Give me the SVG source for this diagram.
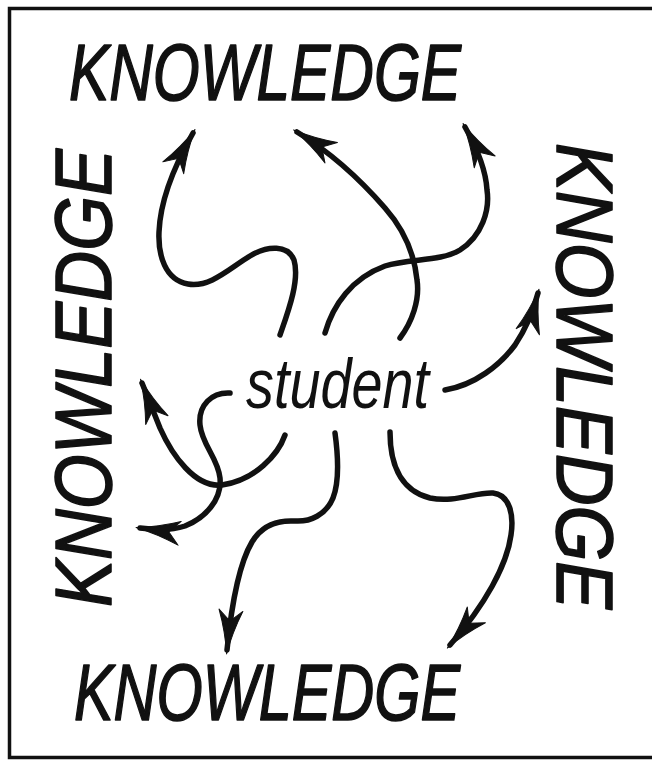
<svg xmlns="http://www.w3.org/2000/svg" width="652" height="762" viewBox="0 0 652 762">
  <defs>
    <style>
      .frame { fill: none; stroke: #111; stroke-width: 3.5; }
      .word { font-family: "Liberation Sans", Arial, sans-serif; font-style: italic; font-size: 80px; fill: #111; stroke: #111; stroke-width: 1.6; stroke-linejoin: round; }
      .center { font-family: "Liberation Sans", Arial, sans-serif; font-style: italic; font-size: 70px; fill: #111; }
      .arrow { fill: none; stroke: #111; stroke-width: 5.5; stroke-linecap: round; stroke-linejoin: round; marker-end: url(#head); }
    </style>
    <!-- dart-shaped arrowhead, tip at the path end -->
    <marker id="head" markerUnits="userSpaceOnUse" markerWidth="56" markerHeight="34" viewBox="-48 -17 56 34" refX="0" refY="0" orient="auto" overflow="visible">
      <path d="M4,0 Q-18,-3.5 -40,-12 L-29,0 L-40,12 Q-18,3.5 4,0 Z" fill="#111" stroke="#111" stroke-width="1" stroke-linejoin="round"/>
    </marker>
  </defs>

  <rect width="652" height="762" fill="#fff"/>

  <!-- outer frame, right side runs off the sheet -->
  <path class="frame" d="M700,8.5 H9.5 V757.5 H700"/>

  <!-- the four KNOWLEDGE labels -->
  <g id="knowledge-top">
    <text class="word" x="69" y="100" textLength="392" lengthAdjust="spacingAndGlyphs">KNOWLEDGE</text>
  </g>
  <g id="knowledge-bottom">
    <text class="word" x="74" y="720" textLength="386" lengthAdjust="spacingAndGlyphs">KNOWLEDGE</text>
  </g>
  <g id="knowledge-left">
    <text class="word" transform="translate(111,607) rotate(-90)" x="0" y="0" textLength="458" lengthAdjust="spacingAndGlyphs">KNOWLEDGE</text>
  </g>
  <g id="knowledge-right">
    <text class="word" transform="translate(557,143) rotate(90)" x="0" y="0" textLength="466" lengthAdjust="spacingAndGlyphs">KNOWLEDGE</text>
  </g>

  <!-- centre label -->
  <g id="student">
    <text class="center" x="246" y="408" textLength="183" lengthAdjust="spacingAndGlyphs">student</text>
  </g>

  <!-- wandering paths outward -->
  <g id="connectors">
    <path class="arrow" d="M280,335 C288,312 300,280 294,260 C288,245 268,245 250,256 C230,268 210,288 188,284 C165,280 158,255 159,232 C160,205 172,170 193,133"/>
    <path class="arrow" d="M400,338 C412,322 420,300 417,280 C414,250 400,225 385,208 C365,185 335,155 297,132"/>
    <path class="arrow" d="M325,333 C333,305 352,278 385,266 C410,258 440,262 460,250 C482,236 490,210 487,190 C486,172 478,150 465,127"/>
    <path class="arrow" d="M445,390 C475,385 500,365 515,345 C525,330 533,312 538,293"/>
    <path class="arrow" d="M285,435 C278,455 255,480 222,485 C195,488 172,455 160,428 C154,413 148,398 142,383"/>
    <path class="arrow" d="M230,393 C212,392 198,405 200,425 C202,445 218,458 220,478 C222,500 205,518 185,526 C170,531 155,530 140,528"/>
    <path class="arrow" d="M335,433 C338,455 340,480 333,498 C326,515 310,522 295,521 C278,520 262,525 252,542 C240,562 232,600 227,650"/>
    <path class="arrow" d="M390,432 C390,460 398,490 430,498 C455,503 475,492 493,493 C510,495 514,515 511,535 C507,565 485,605 450,645"/>
  </g>
</svg>
